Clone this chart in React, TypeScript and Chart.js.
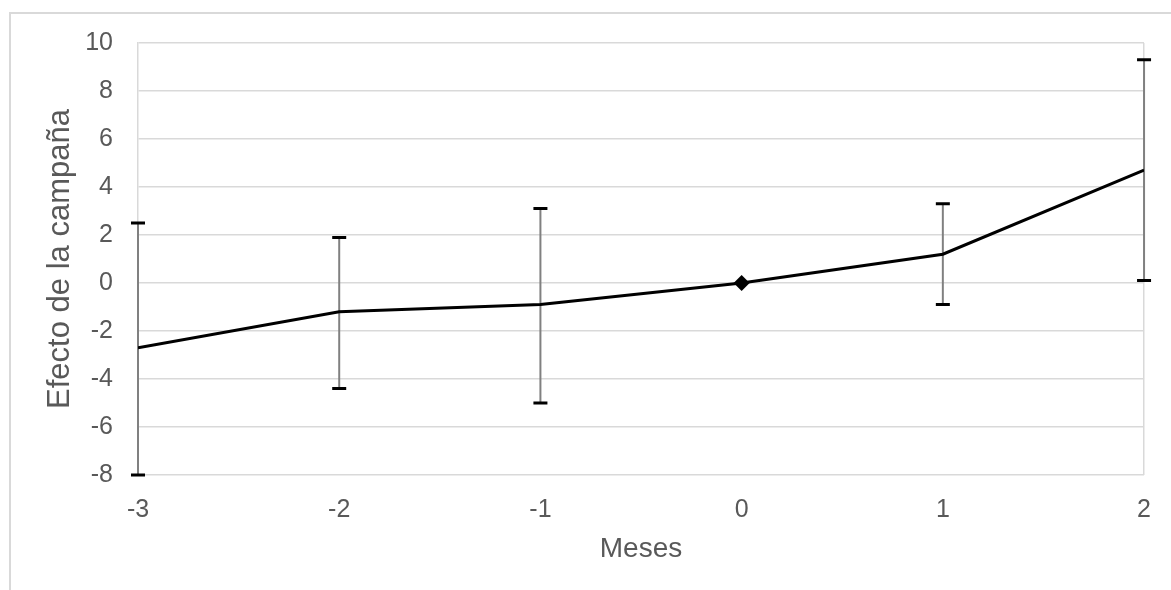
import React, { useEffect, useRef } from "react";
import { Chart, registerables } from "chart.js";

Chart.register(...registerables);

const months = [-3, -2, -1, 0, 1, 2];
const effect = [-2.7, -1.2, -0.9, 0, 1.2, 4.7];
const upper = [2.5, 1.9, 3.1, null, 3.3, 9.3];
const lower = [-8.0, -4.4, -5.0, null, -0.9, 0.1];
const yTicks = [-8, -6, -4, -2, 0, 2, 4, 6, 8, 10];

const FONT = "'Liberation Sans', Arial, sans-serif";

const errorBarPlugin = {
  id: "errorBars",
  beforeDatasetsDraw(chart: any) {
    const { ctx, scales } = chart;
    const xs = scales.x;
    const ys = scales.y;
    ctx.save();
    months.forEach((m, i) => {
      const hi = upper[i];
      const lo = lower[i];
      if (hi == null || lo == null) return;
      const px = xs.getPixelForValue(m);
      const pTop = ys.getPixelForValue(hi);
      const pBot = ys.getPixelForValue(lo);
      ctx.strokeStyle = "#808080";
      ctx.lineWidth = 2;
      ctx.beginPath();
      ctx.moveTo(px, pTop);
      ctx.lineTo(px, pBot);
      ctx.stroke();
      ctx.strokeStyle = "#000000";
      ctx.lineWidth = 3;
      ctx.beginPath();
      ctx.moveTo(px - 7, pTop);
      ctx.lineTo(px + 7, pTop);
      ctx.moveTo(px - 7, pBot);
      ctx.lineTo(px + 7, pBot);
      ctx.stroke();
    });
    ctx.restore();
  },
};

export default function App() {
  const ref = useRef<HTMLCanvasElement>(null);
  useEffect(() => {
    if (!ref.current) return;
    const chart = new Chart(ref.current, {
      type: "line",
      data: {
        datasets: [
          {
            data: months.map((m, i) => ({ x: m, y: effect[i] })),
            borderColor: "#000000",
            backgroundColor: "#000000",
            borderWidth: 3,
            pointStyle: "rectRot",
            pointRadius: months.map((m) => (m === 0 ? 8 : 0)),
            pointBorderWidth: 0,
            tension: 0,
          },
        ],
      },
      plugins: [errorBarPlugin],
      options: {
        animation: false,
        responsive: false,
        maintainAspectRatio: false,
        layout: { padding: { left: 0, top: 43, right: 24, bottom: 0 } },
        plugins: {
          legend: { display: false },
          tooltip: { enabled: false },
        },
        scales: {
          x: {
            type: "linear",
            min: -3,
            max: 2,
            afterFit: (s: any) => {
              s.height = 115;
            },
            afterBuildTicks: (s: any) => {
              s.ticks = months.map((v) => ({ value: v }));
            },
            ticks: {
              padding: 20,
              color: "#595959",
              font: { family: FONT, size: 25 },
              maxRotation: 0,
            },
            grid: {
              drawTicks: false,
              tickLength: 0,
              color: (c: any) => (c.tick && c.tick.value === 2 ? "#d9d9d9" : "rgba(0,0,0,0)"),
              lineWidth: 1.5,
            },
            border: { display: false },
            title: {
              display: true,
              text: "Meses",
              color: "#595959",
              font: { family: FONT, size: 28 },
              padding: { top: 0, bottom: 24 },
            },
          },
          y: {
            type: "linear",
            min: -8,
            max: 10,
            afterFit: (s: any) => {
              s.width = 138;
            },
            afterBuildTicks: (s: any) => {
              s.ticks = yTicks.map((v) => ({ value: v }));
            },
            ticks: {
              padding: 25,
              color: "#595959",
              font: { family: FONT, size: 25 },
            },
            grid: {
              drawTicks: false,
              tickLength: 0,
              color: "#d9d9d9",
              lineWidth: 1.5,
            },
            border: { display: true, color: "#d9d9d9", width: 1.5 },
            title: {
              display: true,
              text: "Efecto de la campaña",
              color: "#595959",
              font: { family: FONT, size: 31 },
              padding: { top: 42, bottom: 0 },
            },
          },
        },
      },
    });
    return () => chart.destroy();
  }, []);

  return (
    <div
      style={{
        position: "fixed",
        left: 0,
        top: 0,
        width: 1171,
        height: 590,
        background: "#ffffff",
        overflow: "hidden",
      }}
    >
      <div
        style={{
          position: "absolute",
          left: 9,
          top: 12,
          width: 1200,
          height: 620,
          border: "2px solid #d9d9d9",
          boxSizing: "border-box",
        }}
      />
      <canvas
        ref={ref}
        width={1171}
        height={590}
        style={{ position: "absolute", left: 0, top: 0, width: 1171, height: 590 }}
      />
    </div>
  );
}
